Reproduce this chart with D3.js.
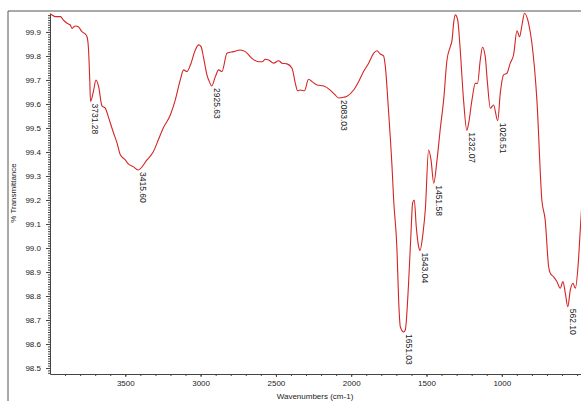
<!DOCTYPE html>
<html>
<head>
<meta charset="utf-8">
<script src="https://d3js.org/d3.v7.min.js"></script>
<style>
    body { margin: 0; background: #fff; }
    svg text { font-family: "Liberation Sans", Arial, sans-serif; fill: #222; }
    .axis path, .axis line { stroke: #444; }
</style>
</head>
<body>
<script>
    // spectrum: wavenumber (cm-1) and %T
    var wavenumbers = [3998, 3987, 3964, 3930, 3912, 3887, 3865, 3854, 3832, 3812, 3788, 3766, 3754, 3744,
        3736, 3731, 3710, 3695, 3677, 3655, 3633, 3613, 3578, 3555, 3533, 3500, 3480, 3447, 3415,
        3356, 3314, 3281, 3248, 3201, 3168, 3135, 3113, 3090, 3068, 3035, 3013, 2997, 2980, 2958,
        2940, 2926, 2902, 2880, 2858, 2825, 2781, 2736, 2703, 2659, 2615, 2592, 2570, 2548, 2515,
        2482, 2459, 2426, 2393, 2371, 2356, 2338, 2311, 2283, 2260, 2227, 2183, 2139, 2110, 2083,
        2050, 2028, 1984, 1951, 1918, 1884, 1851, 1829, 1807, 1785, 1774, 1752, 1729, 1718, 1696,
        1685, 1674, 1651, 1641, 1619, 1603, 1592, 1581, 1568, 1552, 1543, 1523, 1508, 1486, 1470,
        1452, 1430, 1407, 1386, 1364, 1342, 1330, 1320, 1309, 1293, 1276, 1254, 1232, 1220, 1198,
        1176, 1161, 1143, 1128, 1110, 1095, 1076, 1055, 1027, 1010, 988, 966, 944, 922, 899, 882,
        866, 849, 822, 800, 767, 734, 712, 689, 678, 656, 634, 612, 594, 578, 562, 545, 527, 512,
        494, 479, 465];
    var transmittance = [99.975, 99.971, 99.964, 99.964, 99.950, 99.936, 99.929, 99.915, 99.925, 99.922, 99.901, 99.892, 99.880, 99.825,
        99.700, 99.610, 99.658, 99.700, 99.672, 99.592, 99.583, 99.547, 99.479, 99.438, 99.388, 99.367, 99.350, 99.339, 99.325,
        99.367, 99.401, 99.450, 99.500, 99.554, 99.617, 99.700, 99.742, 99.735, 99.762, 99.825, 99.846, 99.839, 99.792, 99.721,
        99.690, 99.675, 99.714, 99.742, 99.735, 99.811, 99.818, 99.825, 99.818, 99.790, 99.776, 99.776, 99.786, 99.783, 99.770,
        99.780, 99.770, 99.767, 99.749, 99.686, 99.655, 99.658, 99.655, 99.703, 99.693, 99.679, 99.675, 99.658, 99.640, 99.625,
        99.628, 99.632, 99.658, 99.693, 99.735, 99.770, 99.811, 99.822, 99.808, 99.800, 99.760, 99.570, 99.339, 99.200, 98.992,
        98.783, 98.672, 98.650, 98.658, 98.854, 99.063, 99.188, 99.200, 99.089, 99.005, 98.990, 99.063, 99.158, 99.408, 99.367,
        99.270, 99.367, 99.505, 99.617, 99.783, 99.839, 99.867, 99.936, 99.971, 99.950, 99.825, 99.617, 99.490, 99.520, 99.617,
        99.686, 99.686, 99.783, 99.836, 99.797, 99.686, 99.582, 99.596, 99.530, 99.645, 99.721, 99.728, 99.770, 99.804, 99.905, 99.880,
        99.929, 99.978, 99.936, 99.853, 99.617, 99.200, 99.117, 98.922, 98.895, 98.880, 98.860, 98.832, 98.860, 98.811, 98.755, 98.825, 98.853, 98.832,
        98.922, 99.075, 99.220];

    var peakLabels = ["3731.28", "3415.60", "2925.63", "2083.03", "1651.03", "1543.04", "1451.58", "1232.07", "1026.51", "562.10"];

    var xTicks = [3500, 3000, 2500, 2000, 1500, 1000];
    var yTicks = [98.5, 98.6, 98.7, 98.8, 98.9, 99.0, 99.1, 99.2, 99.3, 99.4, 99.5, 99.6, 99.7, 99.8, 99.9];

    var SVGWidth = 581;
    var SVGHeight = 401;
    var plotLeft = 50, plotTop = 13, plotBottom = 374;

    var svg = d3.select("body")
        .append("svg")
        .attr("width", SVGWidth)
        .attr("height", SVGHeight);

    // outer frame, cut off on the right and bottom like the screenshot
    svg.append("path")
        .attr("d", "M8,402 L8,11 L582,11")
        .attr("fill", "none")
        .attr("stroke", "#555")
        .attr("stroke-width", 1);

    var x = d3.scaleLinear().domain([4000, 400]).range([plotLeft, plotLeft + 3600 * 0.1506]);
    var y = d3.scaleLinear().domain([98.475, 99.979]).range([plotBottom, plotTop]);

    // minor ticks
    svg.append("g")
        .attr("class", "axis")
        .attr("transform", "translate(" + plotLeft + ",0)")
        .call(d3.axisLeft(y).tickValues(d3.range(98.48, 99.975, 0.01)).tickSize(2).tickFormat(""))
        .call(g => g.select(".domain").remove());
    svg.append("g")
        .attr("class", "axis")
        .attr("transform", "translate(0," + plotBottom + ")")
        .call(d3.axisBottom(x).tickValues(d3.range(3900, 400, -100)).tickSize(2).tickFormat(""))
        .call(g => g.select(".domain").remove());

    // major axes
    var yAxis = svg.append("g")
        .attr("class", "axis")
        .attr("transform", "translate(" + plotLeft + ",0)")
        .call(d3.axisLeft(y).tickValues(yTicks).tickSize(4).tickPadding(5).tickSizeOuter(0).tickFormat(d3.format(".1f")));
    yAxis.selectAll("text").style("font-size", "8px");

    var xAxis = svg.append("g")
        .attr("class", "axis")
        .attr("transform", "translate(0," + plotBottom + ")")
        .call(d3.axisBottom(x).tickValues(xTicks).tickSize(3).tickPadding(3).tickSizeOuter(0).tickFormat(d3.format("d")));
    xAxis.selectAll("text").style("font-size", "8px");

    svg.append("text")
        .attr("transform", "translate(16,193) rotate(-90)")
        .attr("text-anchor", "middle")
        .style("font-size", "8px")
        .text("% Transmittance");

    svg.append("text")
        .attr("x", 315)
        .attr("y", 399)
        .attr("text-anchor", "middle")
        .style("font-size", "8px")
        .text("Wavenumbers (cm-1)");

    // spectrum
    svg.append("clipPath").attr("id", "plotClip")
        .append("rect").attr("x", plotLeft).attr("y", 11).attr("width", SVGWidth - plotLeft).attr("height", plotBottom - 11);

    var points = wavenumbers.map(function(w, i) { return [w, transmittance[i]]; });
    var line = d3.line()
        .x(function(d) { return x(d[0]); })
        .y(function(d) { return y(d[1]); })
        .curve(d3.curveMonotoneX);

    svg.append("path")
        .attr("clip-path", "url(#plotClip)")
        .attr("d", line(points))
        .attr("fill", "none")
        .attr("stroke", "#d42424")
        .attr("stroke-width", 1.1);

    // peak labels, hung below each minimum
    svg.selectAll(".peak")
        .data(peakLabels)
        .enter().append("text")
        .attr("class", "peak")
        .attr("transform", function(d) {
            var w = +d;
            var p = d3.least(points, function(q) { return Math.abs(q[0] - w); });
            return "translate(" + (x(w) + 2) + "," + (y(p[1]) + 2) + ") rotate(90)";
        })
        .style("font-size", "8.5px")
        .text(function(d) { return d; });
</script>
</body>
</html>
